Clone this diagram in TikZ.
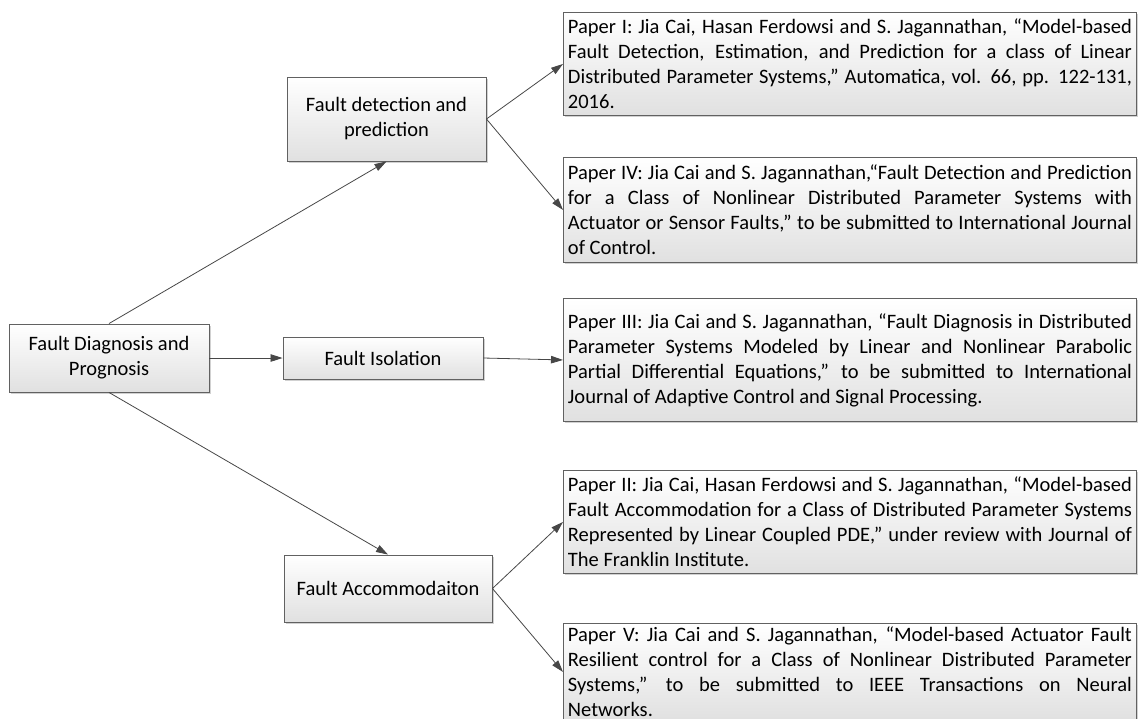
\documentclass[tikz,border=0pt]{standalone}
\usepackage{fontspec}
\setmainfont{Carlito}
\usetikzlibrary{arrows.meta,shadows}
% keep the forced line breaks of the texts, no hyphenation
\hyphenpenalty=10000
\exhyphenpenalty=10000
\tolerance=9999
\begin{document}
\begin{tikzpicture}[x=1pt,y=-1pt,
  box/.style={draw=black!62, line width=0.9pt, top color=white, bottom color=black!12,
    drop shadow={shadow xshift=2pt, shadow yshift=-2pt, opacity=0.18, fill=black},
    font=\fontsize{20.5}{25}\selectfont, inner sep=0pt, align=center},
  topic/.style={box},
  paper/.style={box, anchor=north west, text width=564pt, align=justify, inner xsep=4.5pt},
  link/.style={draw=black!72, line width=0.8pt, -{Triangle[length=12pt,width=7.5pt]}}
]
\useasboundingbox (0,0) rectangle (1148,718);
\clip (0,0) rectangle (1148,718);

% topic boxes
\node[topic, minimum width=200pt, minimum height=68pt] (root) at (109,358) {Fault Diagnosis and\\Prognosis};
\node[topic, minimum width=199pt, minimum height=84pt] (fdp) at (386.5,119) {Fault detection and\\prediction};
\node[topic, minimum width=200pt, minimum height=42pt] (fi) at (383,358) {Fault Isolation};
\node[topic, minimum width=208pt, minimum height=67pt] (fa) at (388,588.5) {Fault Accommodaiton};

% publication boxes
\node[paper, minimum height=103pt, inner ysep=0pt, yshift=0pt] (p1) at (563,12) {Paper I: Jia Cai, Hasan Ferdowsi and S. Jagannathan, “Model-based\linebreak Fault Detection, Estimation, and Prediction for a class of Linear\linebreak Distributed Parameter Systems,” Automatica, vol. 66, pp. 122-131,\linebreak 2016.};
\node[paper, minimum height=105pt] (p4) at (563,157) {Paper IV: Jia Cai and S. Jagannathan,“Fault Detection and Prediction\linebreak for a Class of Nonlinear Distributed Parameter Systems with\linebreak Actuator or Sensor Faults,” to be submitted to International Journal\linebreak of Control.};
\node[paper, minimum height=123pt] (p3) at (563,298) {Paper III: Jia Cai and S. Jagannathan, “Fault Diagnosis in Distributed\linebreak Parameter Systems Modeled by Linear and Nonlinear Parabolic\linebreak Partial Differential Equations,” to be submitted to International\linebreak Journal of Adaptive Control and Signal Processing.};
\node[paper, minimum height=103pt] (p2) at (563,470) {Paper II: Jia Cai, Hasan Ferdowsi and S. Jagannathan, “Model-based\linebreak Fault Accommodation for a Class of Distributed Parameter Systems\linebreak Represented by Linear Coupled PDE,” under review with Journal of\linebreak The Franklin Institute.};
\node[paper, minimum height=97pt] (p5) at (563,623) {Paper V: Jia Cai and S. Jagannathan, “Model-based Actuator Fault\linebreak Resilient control for a Class of Nonlinear Distributed Parameter\linebreak Systems,” to be submitted to IEEE Transactions on Neural\linebreak Networks.};

% connectors
\draw[link] (root.north) -- (fdp.south);
\draw[link] (root.east) -- (fi.west);
\draw[link] (root.south) -- (fa.north);
\draw[link] (fdp.east) -- (p1.west);
\draw[link] (fdp.east) -- (p4.west);
\draw[link] (fi.east) -- (p3.west);
\draw[link] (fa.east) -- (p2.west);
\draw[link] (fa.east) -- (p5.west);
\end{tikzpicture}
\end{document}
